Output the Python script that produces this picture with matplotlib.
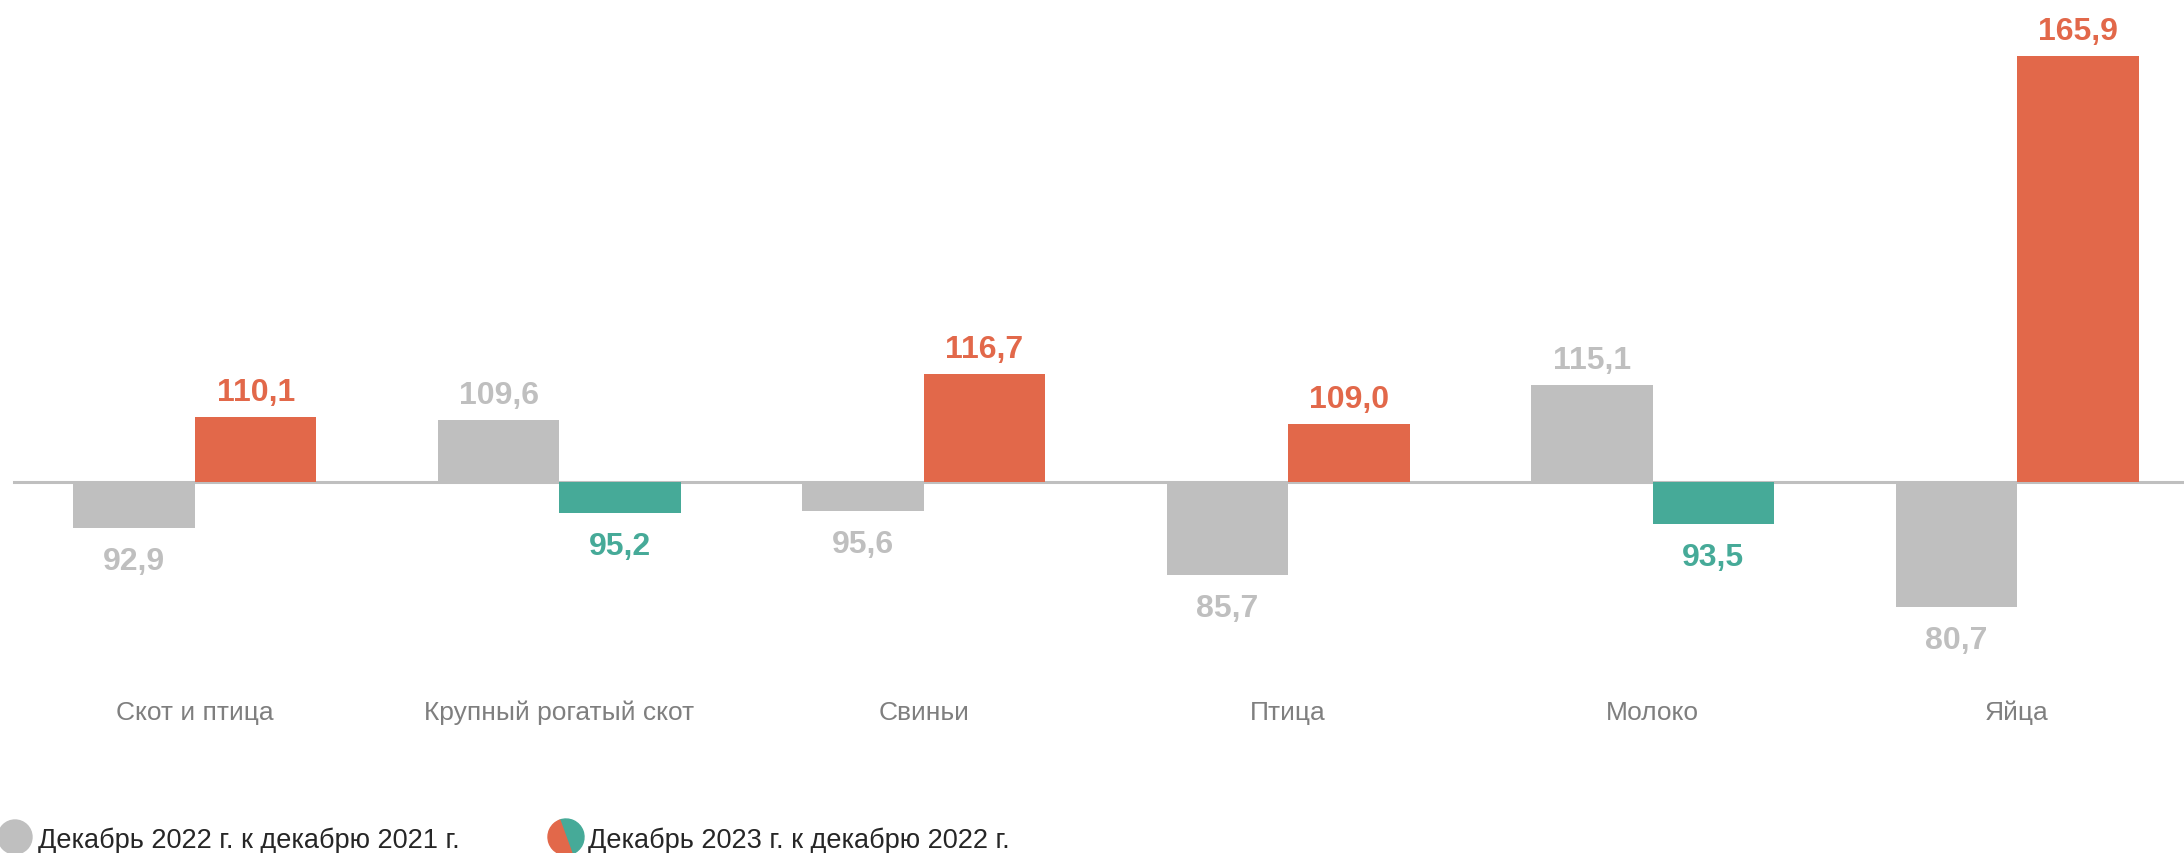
import numpy as np
import matplotlib
matplotlib.use("Agg")
from matplotlib import pyplot as plt
from matplotlib.patches import Circle, Wedge

categories = ['Скот и птица', 'Крупный рогатый скот', 'Свиньи', 'Птица', 'Молоко', 'Яйца']
dec22 = [92.9, 109.6, 95.6, 85.7, 115.1, 80.7]
dec23 = [110.1, 95.2, 116.7, 109.0, 93.5, 165.9]
legend_labels = ['Декабрь 2022 г. к декабрю 2021 г.', 'Декабрь 2023 г. к декабрю 2022 г.']

GRAY = '#bfbfbf'
ORANGE = '#e2684a'
TEAL = '#46aa98'
BASE = 100

plt.rcParams['font.family'] = ['Liberation Sans', 'DejaVu Sans']

fig = plt.figure(figsize=(21.84, 8.54), dpi=100)
ax = fig.add_axes([0, 0, 1, 1])
ax.set_xlim(-0.535, 5.458)
ax.set_ylim(42.6, 174.8)
ax.axis('off')

x = np.arange(len(categories))
w = 1 / 3

# baseline at 100
ax.plot([-0.497, 5.458], [BASE, BASE], color=GRAY, lw=2.2, zorder=1)

c23 = [ORANGE if v >= BASE else TEAL for v in dec23]
ax.bar(x - w / 2, np.array(dec22) - BASE, bottom=BASE, width=w, color=GRAY, zorder=2)
ax.bar(x + w / 2, np.array(dec23) - BASE, bottom=BASE, width=w, color=c23, zorder=2)

def fmt(v):
    return f"{v:.1f}".replace('.', ',')

def label(xpos, v, col):
    off = 17 if v >= BASE else -41
    ax.annotate(fmt(v), (xpos, v), xytext=(0, off), textcoords='offset pixels',
                ha='center', va='baseline', fontsize=23, fontweight='bold', color=col)

for i in range(len(categories)):
    label(x[i] - w / 2, dec22[i], GRAY)
    label(x[i] + w / 2, dec23[i], c23[i])
    ax.text(x[i], 64.4, categories[i], ha='center', va='center', fontsize=19, color='#7f7f7f')

# legend drawn by hand in pixel coords
lg = fig.add_axes([0, 0, 1, 1])
lg.set_xlim(0, 2184)
lg.set_ylim(0, 854)
lg.axis('off')
lg.add_patch(Circle((15, 16), 17, color=GRAY))
lg.add_patch(Wedge((566, 16), 18, -70, 110, color=TEAL))
lg.add_patch(Wedge((566, 16), 18, 110, 290, color=ORANGE))
lg.text(38, 6, legend_labels[0], fontsize=19.5, color='#262626', va='baseline')
lg.text(588, 6, legend_labels[1], fontsize=19.5, color='#262626', va='baseline')

fig.savefig('out.png', dpi=100)
